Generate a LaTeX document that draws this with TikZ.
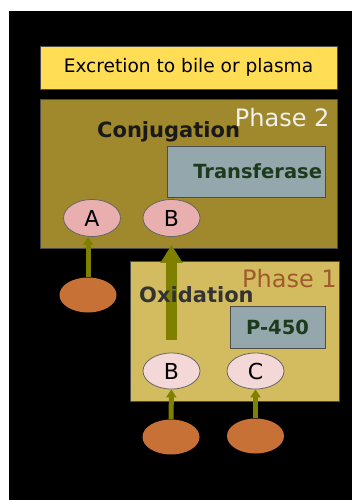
\documentclass[tikz,border=0pt]{standalone}
\usepackage{fontspec}
\setmainfont{DejaVu Sans}
\usetikzlibrary{shapes.geometric,arrows.meta}

\definecolor{excr}{HTML}{FFDD55}
\definecolor{phtwo}{HTML}{A0892C}
\definecolor{phone}{HTML}{D3BC5F}
\definecolor{enzgrey}{HTML}{93A7AC}
\definecolor{enzgreen}{HTML}{1C3A1C}
\definecolor{pinkdark}{HTML}{E9AFAF}
\definecolor{pinklight}{HTML}{F4D7D7}
\definecolor{orng}{HTML}{C87137}
\definecolor{arrowol}{HTML}{808000}
\definecolor{sienna}{HTML}{A05A2C}

\tikzset{
  box/.style={draw=black!70, line width=0.8pt, inner sep=0pt},
  enzyme/.style={box, fill=enzgrey, text=enzgreen, font=\bfseries\fontsize{19.5}{20}\selectfont},
  mol/.style={ellipse, draw=black!60, line width=0.8pt, minimum width=57pt, minimum height=37pt, inner sep=0pt, font=\fontsize{22}{23}\selectfont},
  sub/.style={ellipse, fill=orng, minimum width=57pt, minimum height=35pt, inner sep=0pt},
  feed/.style={-{Triangle[width=10pt,length=8pt]}, line width=5pt, draw=arrowol},
}

\begin{document}
\begin{tikzpicture}[x=1pt,y=-1pt]
	\useasboundingbox (0,0) rectangle (352,500);
	\fill[white] (0,0) rectangle (352,500);
	\fill[black] (9,11) rectangle (352,500);

	% boxes
	\node[box, fill=excr, minimum width=297pt, minimum height=43pt, font=\fontsize{18.6}{20}\selectfont] (excr) at (188.5,67.5) {Excretion to bile or plasma};
	\node[box, fill=phtwo, minimum width=297pt, minimum height=149pt] (conj) at (188.5,173.5) {};
	\node[box, fill=phone, minimum width=209pt, minimum height=140pt] (oxid) at (234.5,331) {};
	\node[enzyme, minimum width=158pt, minimum height=51pt, text width=152pt, align=right, inner xsep=3pt] (trans) at (246,171.5) {Transferase};
	\node[enzyme, minimum width=95pt, minimum height=42pt] (p450) at (277.5,327) {P-450};

	% molecules
	\node[mol, fill=pinkdark] (a) at (92,218) {A};
	\node[mol, fill=pinkdark] (bconj) at (171.5,218) {B};
	\node[mol, fill=pinklight, minimum height=36pt] (boxid) at (171.5,371) {B};
	\node[mol, fill=pinklight, minimum height=36pt] (c) at (255.5,371) {C};
	\node[sub] (sa) at (88,295) {};
	\node[sub] (sb) at (171,437) {};
	\node[sub] (sc) at (255.5,436) {};

	\draw[feed] (sa) -- (sa |- a.south);
	\draw[feed] (sb) -- (boxid);
	\draw[feed] (sc) -- (c);
	\draw[-{Triangle[width=21pt,length=18pt]}, line width=11pt, draw=arrowol, shorten <=13pt, shorten >=8pt] (boxid) -- (bconj);

	% labels
	\node[anchor=base east, text=white!94!black, font=\fontsize{24}{26}\selectfont] (ph2) at (333,127) {Phase 2};
	\node[anchor=base west, inner sep=0pt, text=black!90, font=\bfseries\fontsize{21}{22}\selectfont] (conjlbl) at (97,137) {Conjugation};
	\node[anchor=base west, inner sep=0pt, text=sienna, font=\fontsize{24}{26}\selectfont] (ph1) at (242,287) {Phase 1};
	\node[anchor=base west, inner sep=0pt, text=black!80, font=\bfseries\fontsize{21}{22}\selectfont] (oxlbl) at (139,302) {Oxidation};
\end{tikzpicture}
\end{document}
